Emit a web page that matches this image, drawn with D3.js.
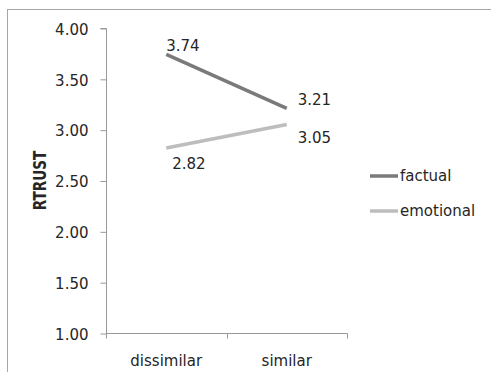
<!DOCTYPE html>
<html>
<head>
<meta charset="utf-8">
<script src="https://cdn.jsdelivr.net/npm/d3@7"></script>
<style>
  html, body { margin: 0; padding: 0; background: #fff; }
  svg { display: block; font-family: "DejaVu Sans", Verdana, sans-serif; }
</style>
</head>
<body>
<svg id="chart" width="491" height="372"></svg>
<script>
const categories = ["dissimilar", "similar"];
const seriesNames = ["factual", "emotional"];
const factualValues = [3.74, 3.21];
const emotionalValues = [2.82, 3.05];
const yTickValues = [1.00, 1.50, 2.00, 2.50, 3.00, 3.50, 4.00];
const yAxisTitle = "RTRUST";

const seriesColors = ["#7a7a7a", "#bdbdbd"];
// label offsets [dx, dy] from each point, per series
const labelOffsets = [
  [[0, -3], [11, -3]],
  [[6, 21], [11, 18]]
];

const svg = d3.select("#chart");

// outer frame
svg.append("rect")
  .attr("x", 7.5).attr("y", 9.5)
  .attr("width", 600).attr("height", 500)
  .attr("fill", "none").attr("stroke", "#a6a6a6").attr("stroke-width", 1);

const plot = { left: 106, right: 347, top: 28, bottom: 333 };

const x = d3.scaleBand().domain(categories).range([plot.left, plot.right]);
const y = d3.scaleLinear().domain([1, 4]).range([plot.bottom, plot.top]);

const axisColor = "#999";
const textColor = "#262626";

// y axis
const yAxis = svg.append("g")
  .attr("transform", `translate(${plot.left + 0.5},0)`)
  .call(d3.axisLeft(y).tickValues(yTickValues).tickFormat(d3.format(".2f")).tickSize(6).tickPadding(12));
yAxis.select(".domain").attr("stroke", axisColor).attr("d", `M-6,${y(4) + 0.5}H0V${y(1) + 0.5}`);
yAxis.selectAll(".tick line").attr("stroke", axisColor).attr("transform", "translate(0,0.5)");
yAxis.selectAll(".tick text")
  .attr("fill", textColor).style("font-size", "15px")
  .style("font-family", "'DejaVu Sans', Verdana, sans-serif")
  .attr("dy", "0.42em");

// x axis
const xAxisG = svg.append("g").attr("transform", `translate(0,${plot.bottom + 0.5})`);
xAxisG.append("line")
  .attr("x1", plot.left).attr("x2", plot.right + 0.5)
  .attr("stroke", axisColor);
const xTicks = [plot.left, ...categories.slice(1).map(c => x(c)), plot.right];
xAxisG.selectAll("line.tk").data(xTicks).enter().append("line")
  .attr("class", "tk")
  .attr("x1", d => Math.round(d) + 0.5).attr("x2", d => Math.round(d) + 0.5)
  .attr("y1", 0).attr("y2", 5)
  .attr("stroke", axisColor);
xAxisG.selectAll("text").data(categories).enter().append("text")
  .attr("x", d => x(d) + x.bandwidth() / 2)
  .attr("y", 32)
  .attr("text-anchor", "middle")
  .attr("fill", textColor)
  .style("font-size", "15px")
  .text(d => d);

// y axis title (bold, horizontally condensed)
svg.append("text")
  .attr("transform", `translate(46,${(plot.top + plot.bottom) / 2}) rotate(-90) scale(0.8,1)`)
  .attr("text-anchor", "middle")
  .attr("fill", textColor)
  .style("font-size", "17px")
  .style("font-weight", "bold")
  .text(yAxisTitle);

// series lines
const allSeries = [factualValues, emotionalValues];
const line = d3.line()
  .x((d, i) => x(categories[i]) + x.bandwidth() / 2)
  .y(d => y(d));

allSeries.forEach((vals, s) => {
  svg.append("path")
    .datum(vals)
    .attr("d", line)
    .attr("fill", "none")
    .attr("stroke", seriesColors[s])
    .attr("stroke-width", 3.5);

  svg.selectAll(null).data(vals).enter().append("text")
    .attr("x", (d, i) => x(categories[i]) + x.bandwidth() / 2 + labelOffsets[s][i][0])
    .attr("y", (d, i) => y(d) + labelOffsets[s][i][1])
    .attr("fill", textColor)
    .style("font-size", "15px")
    .text(d => d3.format(".2f")(d));
});

// legend
const legend = svg.append("g").attr("transform", "translate(370,176)");
seriesNames.forEach((name, s) => {
  const g = legend.append("g").attr("transform", `translate(0,${s * 35})`);
  g.append("line").attr("x1", 0).attr("x2", 28).attr("y1", 0).attr("y2", 0)
    .attr("stroke", seriesColors[s]).attr("stroke-width", 3.5);
  g.append("text").attr("x", 30).attr("y", 0).attr("dy", "0.35em")
    .attr("fill", textColor).style("font-size", "15px").text(name);
});
</script>
</body>
</html>
